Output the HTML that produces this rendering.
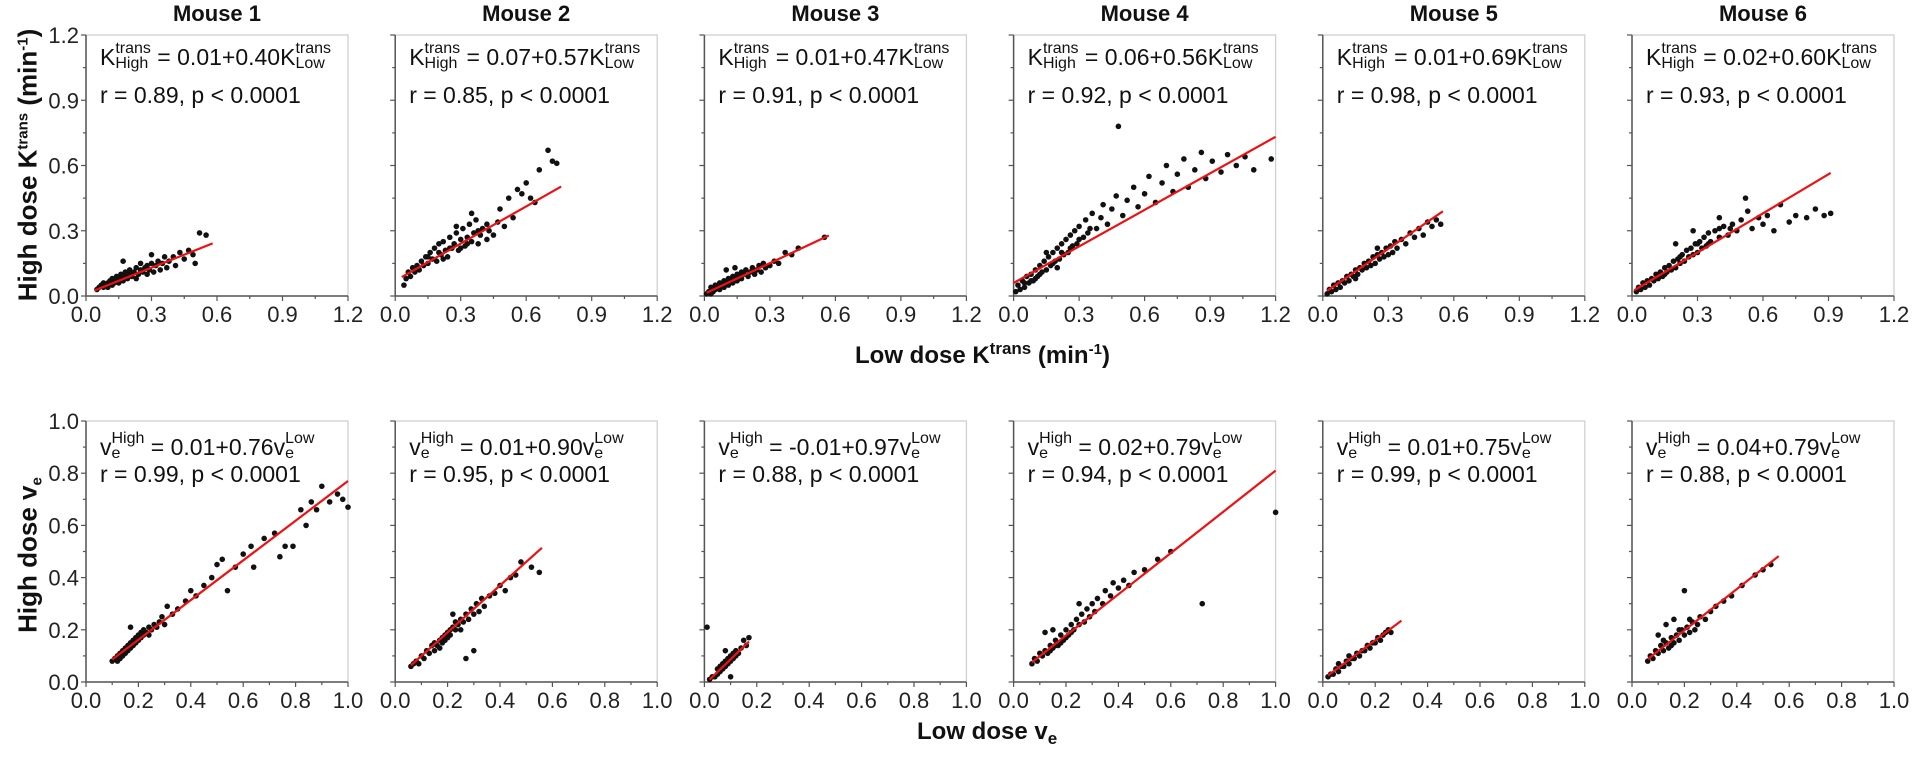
<!DOCTYPE html>
<html><head><meta charset="utf-8">
<style>
body{margin:0;background:#fff;width:1916px;height:758px;overflow:hidden;position:relative;font-family:"Liberation Sans",Arial,sans-serif;color:#111}
svg{position:absolute;left:0;top:0}
.ann{position:absolute;font-size:23px;white-space:nowrap;color:#111;line-height:1}
.st{display:inline-flex;flex-direction:column;vertical-align:middle;font-size:16px;line-height:15px;margin-top:-6px}
.sp{font-size:15px;position:relative;top:-9px}
.sb{font-size:15px;position:relative;top:5px}
.title{position:absolute;font-weight:bold;font-size:22px;text-align:center;width:262px}
.ytitle{position:absolute;font-weight:bold;font-size:26px;white-space:nowrap;transform:translate(-50%,-50%) rotate(-90deg)}
.xtitle{position:absolute;font-weight:bold;font-size:24px;white-space:nowrap}
</style></head><body>
<svg id="chart" width="1916" height="758"></svg>
<div class="ytitle" style="left:28px;top:165px">High dose K<span class="sp">trans</span> (min<span class="sp">-1</span>)</div>
<div class="ytitle" style="left:28px;top:555px">High dose v<span class="sb">e</span></div>
<div class="xtitle" style="left:855px;top:342px">Low dose K<span class="sp" style="font-size:17px">trans</span> <span style="font-weight:bold">(min<span class="sp" style="font-size:15px">-1</span>)</span></div>
<div class="xtitle" style="left:917px;top:718px">Low dose v<span class="sb" style="font-size:17px">e</span></div>
<script>
const mice=["Mouse 1","Mouse 2","Mouse 3","Mouse 4","Mouse 5","Mouse 6"];
const kIntercept=[0.01,0.07,0.01,0.06,0.01,0.02];
const kSlope=[0.40,0.57,0.47,0.56,0.69,0.60];
const kR=["0.89","0.85","0.91","0.92","0.98","0.93"];
const kLineRange=[[0.04,0.58],[0.03,0.76],[0.01,0.57],[0,1.2],[0.02,0.55],[0.01,0.91]];
const vIntercept=[0.01,0.01,-0.01,0.02,0.01,0.04];
const vSlope=[0.76,0.90,0.97,0.79,0.75,0.79];
const vR=["0.99","0.95","0.88","0.94","0.99","0.88"];
const vLineRange=[[0.1,1.0],[0.06,0.56],[0.02,0.17],[0.07,1.0],[0.02,0.3],[0.06,0.56]];
const kTicks=["0.0","0.3","0.6","0.9","1.2"];
const vTicks=["0.0","0.2","0.4","0.6","0.8","1.0"];
const kPts1=[[0.05,0.03],[0.06,0.04],[0.07,0.05],[0.08,0.04],[0.08,0.06],[0.09,0.05],[0.10,0.06],[0.10,0.04],[0.11,0.07],[0.12,0.05],[0.12,0.08],[0.13,0.06],[0.14,0.07],[0.14,0.09],[0.15,0.06],[0.16,0.08],[0.16,0.10],[0.17,0.07],[0.18,0.09],[0.18,0.11],[0.19,0.08],[0.20,0.10],[0.20,0.12],[0.21,0.09],[0.22,0.11],[0.23,0.13],[0.23,0.08],[0.24,0.10],[0.25,0.12],[0.25,0.15],[0.26,0.11],[0.27,0.13],[0.28,0.10],[0.28,0.14],[0.29,0.12],[0.30,0.15],[0.31,0.11],[0.32,0.14],[0.33,0.16],[0.34,0.12],[0.35,0.15],[0.36,0.18],[0.37,0.13],[0.38,0.16],[0.40,0.18],[0.41,0.14],[0.43,0.20],[0.45,0.17],[0.47,0.21],[0.49,0.19],[0.50,0.15],[0.52,0.29],[0.55,0.28],[0.17,0.16],[0.30,0.19]];
const kPts2=[[0.04,0.05],[0.05,0.08],[0.06,0.11],[0.07,0.09],[0.08,0.13],[0.09,0.11],[0.10,0.14],[0.11,0.12],[0.12,0.16],[0.13,0.14],[0.14,0.18],[0.15,0.15],[0.16,0.20],[0.17,0.17],[0.18,0.22],[0.19,0.16],[0.20,0.24],[0.21,0.19],[0.22,0.25],[0.23,0.21],[0.24,0.18],[0.25,0.27],[0.26,0.22],[0.27,0.24],[0.28,0.29],[0.29,0.21],[0.30,0.26],[0.31,0.31],[0.32,0.23],[0.33,0.27],[0.34,0.33],[0.35,0.25],[0.36,0.29],[0.37,0.35],[0.38,0.24],[0.39,0.28],[0.40,0.31],[0.42,0.26],[0.43,0.30],[0.45,0.28],[0.47,0.34],[0.48,0.40],[0.50,0.32],[0.52,0.45],[0.54,0.36],[0.56,0.49],[0.58,0.47],[0.60,0.52],[0.62,0.45],[0.64,0.43],[0.66,0.58],[0.70,0.67],[0.72,0.62],[0.74,0.61],[0.35,0.38],[0.28,0.32],[0.20,0.20],[0.25,0.22],[0.30,0.22],[0.33,0.24],[0.15,0.18],[0.22,0.17],[0.38,0.30],[0.42,0.33]];
const kPts3=[[0.01,0.01],[0.02,0.02],[0.03,0.01],[0.03,0.04],[0.04,0.02],[0.05,0.05],[0.05,0.03],[0.06,0.04],[0.07,0.06],[0.07,0.03],[0.08,0.05],[0.09,0.07],[0.09,0.04],[0.10,0.06],[0.11,0.08],[0.11,0.05],[0.12,0.07],[0.13,0.09],[0.13,0.06],[0.14,0.08],[0.15,0.10],[0.15,0.07],[0.16,0.09],[0.17,0.11],[0.17,0.08],[0.18,0.10],[0.19,0.12],[0.20,0.09],[0.21,0.11],[0.22,0.13],[0.23,0.10],[0.24,0.12],[0.25,0.14],[0.26,0.11],[0.27,0.15],[0.28,0.13],[0.30,0.14],[0.32,0.16],[0.34,0.15],[0.37,0.20],[0.40,0.19],[0.43,0.22],[0.55,0.27],[0.10,0.12],[0.14,0.13]];
const kPts4=[[0.01,0.02],[0.02,0.05],[0.03,0.03],[0.04,0.07],[0.05,0.04],[0.06,0.09],[0.07,0.06],[0.08,0.10],[0.09,0.07],[0.10,0.12],[0.11,0.09],[0.12,0.14],[0.13,0.11],[0.14,0.16],[0.15,0.12],[0.16,0.18],[0.17,0.14],[0.18,0.20],[0.19,0.16],[0.20,0.22],[0.21,0.17],[0.22,0.24],[0.23,0.19],[0.24,0.26],[0.25,0.20],[0.26,0.28],[0.27,0.23],[0.28,0.30],[0.29,0.24],[0.30,0.32],[0.32,0.27],[0.33,0.35],[0.34,0.29],[0.36,0.38],[0.38,0.31],[0.40,0.36],[0.41,0.42],[0.43,0.33],[0.45,0.40],[0.47,0.46],[0.48,0.78],[0.50,0.37],[0.52,0.44],[0.55,0.50],[0.57,0.41],[0.60,0.47],[0.62,0.55],[0.65,0.43],[0.68,0.52],[0.70,0.60],[0.73,0.48],[0.75,0.56],[0.78,0.63],[0.80,0.50],[0.83,0.58],[0.86,0.66],[0.88,0.54],[0.91,0.62],[0.95,0.57],[0.98,0.65],[1.02,0.60],[1.06,0.64],[1.10,0.58],[1.18,0.63],[0.20,0.13],[0.15,0.20],[0.10,0.08],[0.12,0.10],[0.18,0.15],[0.22,0.20],[0.26,0.22],[0.30,0.26],[0.35,0.31],[0.05,0.06],[0.08,0.07]];
const kPts5=[[0.02,0.01],[0.03,0.03],[0.04,0.02],[0.05,0.05],[0.06,0.03],[0.07,0.06],[0.08,0.04],[0.09,0.07],[0.10,0.06],[0.11,0.09],[0.12,0.07],[0.13,0.10],[0.14,0.09],[0.15,0.12],[0.16,0.10],[0.17,0.13],[0.18,0.12],[0.19,0.15],[0.20,0.13],[0.21,0.16],[0.22,0.14],[0.23,0.18],[0.24,0.15],[0.25,0.19],[0.26,0.17],[0.27,0.20],[0.28,0.18],[0.29,0.22],[0.30,0.19],[0.31,0.23],[0.32,0.20],[0.33,0.25],[0.34,0.22],[0.36,0.26],[0.38,0.24],[0.40,0.29],[0.42,0.27],[0.44,0.31],[0.46,0.28],[0.48,0.34],[0.50,0.32],[0.52,0.35],[0.54,0.33],[0.15,0.08],[0.25,0.22]];
const kPts6=[[0.02,0.02],[0.03,0.04],[0.04,0.03],[0.05,0.06],[0.06,0.04],[0.07,0.07],[0.08,0.05],[0.09,0.08],[0.10,0.07],[0.11,0.10],[0.12,0.08],[0.13,0.11],[0.14,0.09],[0.15,0.13],[0.16,0.11],[0.17,0.14],[0.18,0.12],[0.19,0.16],[0.20,0.13],[0.21,0.17],[0.22,0.15],[0.23,0.19],[0.24,0.16],[0.25,0.21],[0.26,0.18],[0.27,0.22],[0.28,0.19],[0.29,0.24],[0.30,0.20],[0.31,0.25],[0.32,0.22],[0.33,0.27],[0.34,0.23],[0.35,0.29],[0.36,0.25],[0.38,0.30],[0.40,0.27],[0.40,0.36],[0.42,0.32],[0.44,0.28],[0.46,0.33],[0.48,0.30],[0.50,0.35],[0.52,0.45],[0.53,0.39],[0.55,0.31],[0.58,0.36],[0.60,0.33],[0.62,0.37],[0.65,0.30],[0.68,0.42],[0.72,0.34],[0.75,0.37],[0.80,0.36],[0.84,0.40],[0.88,0.37],[0.91,0.38],[0.20,0.24],[0.28,0.30],[0.15,0.10],[0.22,0.18],[0.30,0.24],[0.35,0.24],[0.40,0.31],[0.45,0.31]];
const vPts1=[[0.10,0.08],[0.11,0.09],[0.12,0.10],[0.12,0.08],[0.13,0.11],[0.13,0.09],[0.14,0.12],[0.14,0.10],[0.15,0.13],[0.15,0.11],[0.16,0.14],[0.16,0.12],[0.17,0.13],[0.17,0.15],[0.18,0.14],[0.18,0.16],[0.19,0.15],[0.19,0.17],[0.20,0.16],[0.20,0.18],[0.21,0.17],[0.21,0.19],[0.22,0.18],[0.22,0.20],[0.23,0.19],[0.24,0.21],[0.24,0.18],[0.25,0.20],[0.26,0.22],[0.27,0.21],[0.28,0.23],[0.29,0.25],[0.30,0.22],[0.31,0.29],[0.33,0.26],[0.35,0.28],[0.38,0.31],[0.40,0.35],[0.42,0.33],[0.45,0.37],[0.48,0.40],[0.50,0.45],[0.52,0.47],[0.54,0.35],[0.57,0.44],[0.60,0.49],[0.63,0.52],[0.64,0.44],[0.68,0.55],[0.72,0.57],[0.74,0.48],[0.76,0.52],[0.79,0.52],[0.82,0.66],[0.84,0.60],[0.86,0.69],[0.88,0.66],[0.90,0.75],[0.93,0.69],[0.96,0.72],[0.98,0.70],[1.00,0.67],[0.17,0.21]];
const vPts2=[[0.06,0.06],[0.07,0.07],[0.08,0.08],[0.09,0.07],[0.10,0.10],[0.11,0.09],[0.12,0.12],[0.13,0.11],[0.14,0.14],[0.15,0.12],[0.15,0.15],[0.16,0.14],[0.17,0.16],[0.17,0.13],[0.18,0.17],[0.18,0.15],[0.19,0.18],[0.19,0.16],[0.20,0.19],[0.20,0.17],[0.21,0.20],[0.21,0.18],[0.22,0.21],[0.23,0.20],[0.23,0.23],[0.24,0.22],[0.25,0.24],[0.25,0.20],[0.26,0.23],[0.27,0.26],[0.28,0.24],[0.29,0.28],[0.30,0.26],[0.31,0.30],[0.32,0.27],[0.33,0.32],[0.34,0.29],[0.36,0.33],[0.38,0.34],[0.40,0.37],[0.42,0.35],[0.44,0.40],[0.46,0.41],[0.48,0.46],[0.52,0.44],[0.55,0.42],[0.30,0.12],[0.27,0.09],[0.22,0.26]];
const vPts3=[[0.02,0.01],[0.03,0.02],[0.04,0.02],[0.05,0.03],[0.05,0.05],[0.06,0.04],[0.06,0.06],[0.07,0.05],[0.07,0.07],[0.08,0.06],[0.08,0.08],[0.09,0.07],[0.09,0.09],[0.10,0.08],[0.10,0.10],[0.11,0.09],[0.11,0.11],[0.12,0.10],[0.12,0.12],[0.13,0.11],[0.14,0.13],[0.15,0.16],[0.16,0.14],[0.17,0.17],[0.01,0.21],[0.10,0.02],[0.08,0.12]];
const vPts4=[[0.07,0.07],[0.08,0.09],[0.09,0.08],[0.10,0.11],[0.11,0.10],[0.12,0.12],[0.13,0.11],[0.14,0.14],[0.15,0.13],[0.16,0.16],[0.17,0.14],[0.18,0.18],[0.19,0.16],[0.20,0.20],[0.21,0.18],[0.22,0.22],[0.23,0.20],[0.24,0.24],[0.25,0.22],[0.26,0.26],[0.27,0.23],[0.28,0.28],[0.29,0.25],[0.30,0.30],[0.31,0.27],[0.32,0.32],[0.34,0.30],[0.35,0.35],[0.37,0.33],[0.38,0.38],[0.40,0.36],[0.42,0.39],[0.44,0.37],[0.46,0.42],[0.50,0.43],[0.55,0.47],[0.60,0.50],[0.72,0.30],[1.00,0.65],[0.12,0.19],[0.15,0.20],[0.25,0.30],[0.18,0.15],[0.20,0.17],[0.22,0.19],[0.14,0.12],[0.16,0.14]];
const vPts5=[[0.02,0.02],[0.03,0.03],[0.04,0.03],[0.05,0.05],[0.06,0.04],[0.07,0.06],[0.08,0.06],[0.09,0.08],[0.10,0.07],[0.11,0.09],[0.12,0.09],[0.13,0.11],[0.14,0.10],[0.15,0.12],[0.16,0.12],[0.17,0.14],[0.18,0.13],[0.19,0.15],[0.20,0.15],[0.21,0.17],[0.22,0.16],[0.23,0.18],[0.24,0.19],[0.25,0.20],[0.26,0.19],[0.06,0.07],[0.10,0.10]];
const vPts6=[[0.06,0.08],[0.07,0.10],[0.08,0.09],[0.09,0.12],[0.10,0.11],[0.11,0.14],[0.12,0.12],[0.13,0.15],[0.14,0.13],[0.15,0.17],[0.16,0.15],[0.17,0.18],[0.18,0.16],[0.19,0.20],[0.20,0.18],[0.21,0.21],[0.22,0.19],[0.23,0.23],[0.24,0.20],[0.25,0.22],[0.26,0.25],[0.28,0.24],[0.30,0.27],[0.32,0.29],[0.35,0.31],[0.38,0.33],[0.42,0.37],[0.47,0.41],[0.50,0.43],[0.53,0.45],[0.13,0.22],[0.20,0.35],[0.10,0.18],[0.16,0.24],[0.12,0.16],[0.15,0.14],[0.18,0.20],[0.22,0.24]];
const kPts=[kPts1,kPts2,kPts3,kPts4,kPts5,kPts6];
const vPts=[vPts1,vPts2,vPts3,vPts4,vPts5,vPts6];

const NS="http://www.w3.org/2000/svg";
const svg=document.getElementById('chart');
const L0=86, STEP=309.2, W=262;
function mk(tag,attrs,parent){const e=document.createElementNS(NS,tag);for(const k in attrs)e.setAttribute(k,attrs[k]);(parent||svg).appendChild(e);return e;}
function addDiv(cls,html,style){const d=document.createElement('div');d.className=cls;d.innerHTML=html;d.style.cssText=style;document.body.appendChild(d);return d;}

function panel(i,row){
  const isK=row===0;
  const top=isK?35:421, bot=isK?296:682, max=isK?1.2:1.0;
  const left=L0+STEP*i, right=left+W;
  const sx=v=>left+v/max*(right-left);
  const sy=v=>bot-v/max*(bot-top);
  const g=mk('g',{});
  
  
  const fr=mk('rect',{x:left,y:top,width:right-left,height:bot-top,fill:'none',stroke:'#d0d0d0','stroke-width':1.3},g);
  
  
  mk('line',{x1:left,y1:top,x2:left,y2:bot,stroke:'#555','stroke-width':1.5},g);
  mk('line',{x1:left,y1:bot,x2:right,y2:bot,stroke:'#555','stroke-width':1.5},g);
  const ticks=isK?kTicks:vTicks;
  const n=ticks.length-1;
  for(let j=0;j<=n*2;j++){
    const v=max*j/(n*2); const major=j%2===0; const len=major?5:3;
    mk('line',{x1:sx(v),y1:bot,x2:sx(v),y2:bot+len,stroke:'#555','stroke-width':1.2},g);
    mk('line',{x1:left,y1:sy(v),x2:left-len,y2:sy(v),stroke:'#555','stroke-width':1.2},g);
  }
  ticks.forEach((t,j)=>{
    const v=max*j/n;
    const tx=mk('text',{x:sx(v),y:bot+26,'text-anchor':'middle','font-size':22,fill:'#222','font-family':'Liberation Sans, sans-serif'},g);
    tx.textContent=t;
    
    
    if(i===0){
      const ty=mk('text',{x:left-7,y:sy(v)+8,'text-anchor':'end','font-size':22,fill:'#222','font-family':'Liberation Sans, sans-serif'},g);
      ty.textContent=t;
      
      
    }
  });
  const pts=isK?kPts[i]:vPts[i];
  pts.forEach(p=>{
    const c=mk('circle',{cx:sx(p[0]),cy:sy(p[1]),r:2.8,fill:'#111'},g);
    
    
  });
  const a=isK?kIntercept[i]:vIntercept[i], b=isK?kSlope[i]:vSlope[i];
  const rg=isK?kLineRange[i]:vLineRange[i];
  const ln=mk('line',{x1:sx(rg[0]),y1:sy(a+b*rg[0]),x2:sx(rg[1]),y2:sy(a+b*rg[1]),stroke:'#ee1111','stroke-width':2.2},g);
  
  
  const fmt=v=>(v<0?'-':'')+Math.abs(v).toFixed(2);
  const r=isK?kR[i]:vR[i];
  let eq;
  if(isK) eq='K<span class="st"><span>trans</span><span>High</span></span> = '+fmt(a)+'+'+b.toFixed(2)+'K<span class="st"><span>trans</span><span>Low</span></span>';
  else eq='v<span class="st"><span>High</span><span>e</span></span> = '+fmt(a)+'+'+b.toFixed(2)+'v<span class="st"><span>Low</span><span>e</span></span>';
  const eqTop=isK?top+11:top+15;
  const d1=addDiv('ann',eq,'left:'+(left+14)+'px;top:'+eqTop+'px');
  
  
  const d2=addDiv('ann','r = '+r+', p &lt; 0.0001','left:'+(left+14)+'px;top:'+(isK?top+49:top+42)+'px');
  
  
  if(isK){
    const t=addDiv('title',mice[i],'left:'+left+'px;top:1px');
    
    
  }
}
for(let i=0;i<6;i++){panel(i,0);panel(i,1);}
</script>
</body></html>
